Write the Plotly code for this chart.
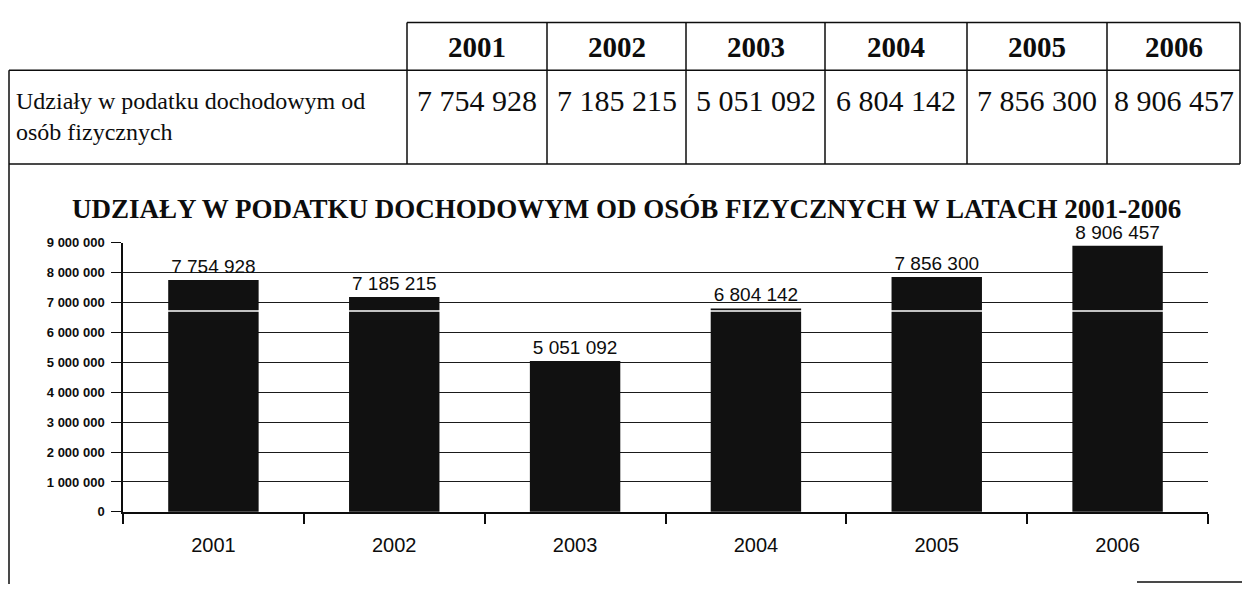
import plotly.graph_objects as go

# ---- data ----
years = ["2001", "2002", "2003", "2004", "2005", "2006"]
values = [7754928, 7185215, 5051092, 6804142, 7856300, 8906457]
row_label = "Udziały w podatku dochodowym od<br>osób fizycznych"
chart_title = "UDZIAŁY W PODATKU DOCHODOWYM OD OSÓB FIZYCZNYCH W LATACH 2001-2006"
y_ticks = list(range(0, 9000001, 1000000))

W, H = 1242, 592


def fx(px):
    return px / W


def fy(py):
    return 1 - py / H


def fmt(v):
    return f"{v:,}".replace(",", " ")


SERIF = "Liberation Serif, Times New Roman, serif"
SANS = "Liberation Sans, Arial, sans-serif"
INK = "#0d0d0d"

fig = go.Figure(
    go.Bar(
        x=years,
        y=values,
        width=0.5,
        marker=dict(color="#111111", line=dict(width=0)),
        text=[fmt(v) for v in values],
        textposition="outside",
        textfont=dict(family=SANS, size=19, color=INK),
        cliponaxis=False,
        hoverinfo="x+y",
    )
)

# ---- table geometry (pixels) ----
col_edges = [407, 547, 686, 825, 967, 1107, 1240]
left_edge = 9
hdr_top, hdr_bot, row_bot = 16, 65, 161

shapes = []
line_style = dict(color=INK, width=1.5)


def hline(x0, x1, y):
    shapes.append(dict(type="line", xref="paper", yref="paper",
                       x0=fx(x0), x1=fx(x1), y0=fy(y), y1=fy(y), line=line_style))


def vline(x, y0, y1):
    shapes.append(dict(type="line", xref="paper", yref="paper",
                       x0=fx(x), x1=fx(x), y0=fy(y0), y1=fy(y1), line=line_style))


hline(col_edges[0], col_edges[-1], hdr_top)
hline(left_edge, col_edges[-1], hdr_bot)
hline(left_edge, col_edges[-1], row_bot)
for cx in col_edges:
    vline(cx, hdr_top, row_bot)
vline(left_edge, hdr_bot, H)
hline(1137, W, 590)
# scan artifact: thin white line across the bars
shapes.append(dict(type="line", xref="paper", yref="paper", layer="above",
                   x0=fx(123), x1=fx(1208), y0=fy(312), y1=fy(312),
                   line=dict(color="white", width=1.5)))

annotations = []
for i, (yr, v) in enumerate(zip(years, values)):
    cx = (col_edges[i] + col_edges[i + 1]) / 2
    annotations.append(dict(text=f"<b>{yr}</b>", x=fx(cx), y=fy(41), xref="paper", yref="paper",
                            showarrow=False, xanchor="center", yanchor="middle",
                            font=dict(family=SERIF, size=29, color=INK)))
    annotations.append(dict(text=fmt(v), x=fx(cx), y=fy(96), xref="paper", yref="paper",
                            showarrow=False, xanchor="center", yanchor="middle",
                            font=dict(family=SERIF, size=30, color=INK)))

annotations.append(dict(text=row_label, x=fx(14), y=fy(112), xref="paper", yref="paper",
                        showarrow=False, xanchor="left", yanchor="middle", align="left",
                        font=dict(family=SERIF, size=24, color=INK)))
annotations.append(dict(text=f"<b>{chart_title}</b>", x=fx(626), y=fy(207), xref="paper", yref="paper",
                        showarrow=False, xanchor="center", yanchor="middle",
                        font=dict(family=SERIF, size=27, color=INK)))

fig.update_layout(
    width=W,
    height=H,
    margin=dict(l=0, r=0, t=0, b=0),
    paper_bgcolor="white",
    plot_bgcolor="white",
    separators=", ",
    showlegend=False,
    shapes=shapes,
    annotations=annotations,
    xaxis=dict(
        domain=[fx(123), fx(1208)],
        showline=True, linecolor=INK, linewidth=1.5,
        ticks="outside", tickson="boundaries", ticklen=10, tickcolor=INK, tickwidth=1.5,
        ticklabelstandoff=14,
        showgrid=False,
        tickfont=dict(family=SANS, size=20, color=INK),
    ),
    yaxis=dict(
        domain=[fy(518), fy(242)],
        range=[0, 9000000],
        tickvals=y_ticks,
        tickformat=",d",
        showgrid=True, gridcolor="#1a1a1a", gridwidth=1.2,
        showline=True, linecolor=INK, linewidth=1.5,
        ticks="outside", ticklen=10, tickcolor=INK, tickwidth=1.2,
        ticklabelstandoff=4,
        zeroline=False,
        tickfont=dict(family="Liberation Sans", size=13, color=INK, weight="bold"),
    ),
)

fig.write_html("out.html", config={"displayModeBar": False},
               post_script="document.body.style.margin='0px';")
